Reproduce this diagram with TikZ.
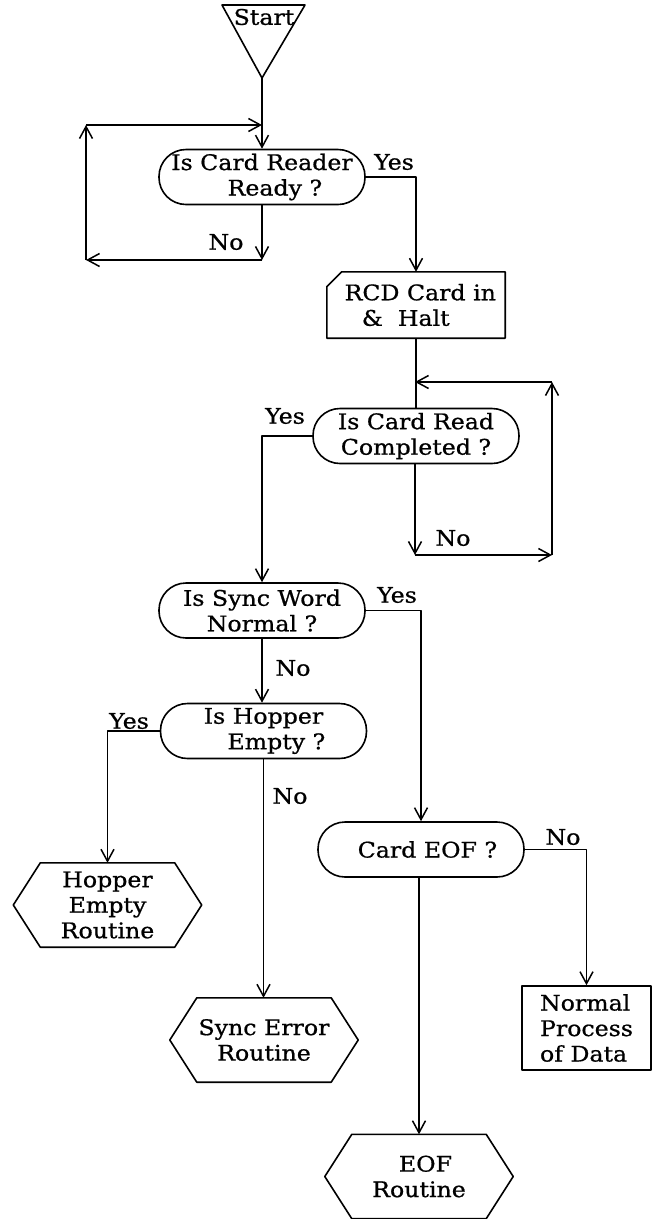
\documentclass[tikz,border=0pt]{standalone}
\usepackage{fontspec}
\setmainfont[FakeStretch=1.1,FakeBold=0.8]{DejaVu Serif}
\usetikzlibrary{arrows.meta,calc}

\newcommand{\hexinset}{27pt}

\tikzset{
  ln/.style={line width=1.6pt, line join=round},
  arr/.style={ln, -{Straight Barb[length=12pt,width=13pt,line width=1.5pt]}},
  txt/.style={font=\fontsize{21.5pt}{25.5pt}\selectfont, inner sep=0pt},
  decision/.style={txt, draw, ln, rounded corners=27pt, minimum width=206pt,
    minimum height=55pt, align=center},
  plainbox/.style={txt, minimum width=178pt, minimum height=66pt, align=left},
  procbox/.style={txt, draw, ln, minimum width=129pt, minimum height=84pt,
    align=left},
  lbl/.style={txt},
  hexbox/.style={txt, minimum width=188pt, minimum height=84pt, align=center,
    append after command={\pgfextra{\draw[ln]
      ([xshift=\hexinset]\tikzlastnode.north west) --
      ([xshift=-\hexinset]\tikzlastnode.north east) --
      (\tikzlastnode.east) --
      ([xshift=-\hexinset]\tikzlastnode.south east) --
      ([xshift=\hexinset]\tikzlastnode.south west) --
      (\tikzlastnode.west) -- cycle;}}}
}

\begin{document}
\begin{tikzpicture}[x=1pt,y=-1pt]
\useasboundingbox (0,0) rectangle (653,1219);

% start terminal (inverted triangle)
\coordinate (startapex) at (262,78);
\draw[ln] (222,5) -- (305,5) -- (startapex) -- cycle;
\node[lbl] (start) at (264,17) {Start};

% decisions
\node[decision] (d1) at (262,177) {Is Card Reader\\\hspace{1.2em}Ready ?};
\node[decision] (d2) at (416,436) {Is Card Read\\Completed ?};
\node[decision] (d3) at (262,610.5) {Is Sync Word\\Normal ?};
\node[decision] (d4) at (263.5,731) {Is Hopper\\\hspace{1.2em}Empty ?};
\node[decision] (d5) at (421,849.5) {\hspace{0.6em}Card EOF ?};

% card read instruction (clipped-corner card)
\node[plainbox] (rcd) at (416,305) {\hspace{0.4em}RCD Card in\\\hspace{1.2em}\&\ \ Halt};
\draw[ln] ([xshift=15pt]rcd.north west) -- (rcd.north east) -- (rcd.south east)
  -- (rcd.south west) -- ([yshift=-15pt]rcd.north west) -- cycle;

% routines
\node[hexbox] (hop) at (107.5,905) {Hopper\\Empty\\Routine};
\node[hexbox] (syncerr) at (264,1040) {Sync Error\\Routine};
\node[hexbox] (eof) at (419,1176.5) {\hspace{0.6em}EOF\\Routine};
\node[procbox] (normal) at (586.5,1028) {Normal\\Process\\of Data};

% loop points
\coordinate (l1a) at (262,260);
\coordinate (l1b) at (86,260);
\coordinate (l1c) at (86,125);
\coordinate (l1d) at (262,125);
\coordinate (l2a) at (415,555);
\coordinate (l2b) at (552,555);
\coordinate (l2c) at (552,382);
\coordinate (l2d) at (415,382);

% connectors
\draw[arr] (startapex) -- (d1.north);
\draw[arr] (d1.south) -- (l1a);
\draw[arr] (l1a) -- (l1b);
\draw[arr] (l1b) -- (l1c);
\draw[arr] (l1c) -- (l1d);

\draw[arr] (d1.east) -| (rcd.north);
\draw[ln] (rcd.south) -- (d2.north -| rcd.south);

\draw[arr] (d2.south -| l2a) -- (l2a);
\draw[arr] (l2a) -- (l2b);
\draw[arr] (l2b) -- (l2c);
\draw[arr] (l2c) -- (l2d);

\draw[arr] (d2.west) -| (d3.north);
\draw[arr] (d3.south) -- (d4.north -| d3.south);
\draw[arr] (d3.east) -| (d5.north);
\draw[arr] (d4.west) -| (hop.north);
\draw[arr] (d4.south) -- (syncerr.north -| d4.south);
\draw[arr] (d5.east) -| (normal.north);
\draw[arr] (eof.north |- d5.south) -- (eof.north);

% branch labels
\node[lbl] (y1) at (394,162) {Yes};
\node[lbl] (n1) at (226,242) {No};
\node[lbl] (y2) at (285,416) {Yes};
\node[lbl] (n2) at (453,538) {No};
\node[lbl] (y3) at (397,595) {Yes};
\node[lbl] (n3) at (293,668) {No};
\node[lbl] (y4) at (129,721) {Yes};
\node[lbl] (n4) at (290,796) {No};
\node[lbl] (n5) at (563,837) {No};
\end{tikzpicture}
\end{document}
